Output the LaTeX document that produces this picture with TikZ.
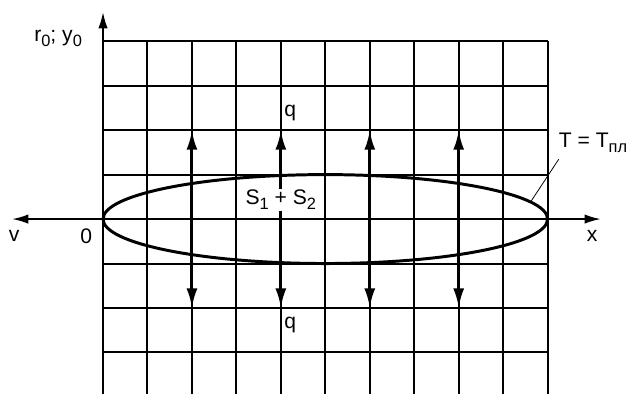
\documentclass[tikz,border=0pt]{standalone}
\usepackage{fontspec}
\setmainfont{Liberation Sans}
\usetikzlibrary{arrows.meta,shapes.geometric}
\newcommand{\lowidx}[1]{\raisebox{-0.45ex}{\fontsize{10.5}{10.5}\selectfont #1}}

\begin{document}
\begin{tikzpicture}[font=\fontsize{13.5}{15}\selectfont,
    gridline/.style={line width=1.3pt},
    axisline/.style={line width=1.3pt},
    flux/.style={line width=1.9pt,{Latex[length=12.5pt,width=7pt]}-{Latex[length=12.5pt,width=7pt]}},
    lbl/.style={inner sep=1pt}]
    \useasboundingbox (-2.317,-3.94) rectangle (11.83,4.927);
    % grid
    \foreach \x in {1,...,10} {
        \draw[gridline] (\x,4) -- (\x,-3.94);
    }
    \foreach \y in {-3,-2,-1,1,2,3,4} {
        \draw[gridline] (0,\y) -- (10,\y);
    }
    % axes
    \coordinate (ybot) at (0,-3.94);
    \coordinate (ytop) at (0,4.66);
    \coordinate (xleft) at (-2.05,0);
    \coordinate (xright) at (11.2,0);
    \draw[axisline,-{Latex[length=10.5pt,width=6pt]}] (ybot) -- (ytop);
    \draw[axisline,{Latex[length=10.5pt,width=6pt]}-{Latex[length=10.5pt,width=6pt]}] (xleft) -- (xright);
    % melting zone
    \node[draw, ellipse, line width=1.9pt, minimum width=10cm, minimum height=2cm, inner sep=0pt] (melt) at (5,0) {};
    \foreach \x in {2,4,6,8} {
        \coordinate (dn\x) at (\x,-2);
        \coordinate (up\x) at (\x,2);
        \draw[flux] (dn\x) -- (up\x);
    }
    \node[lbl, fill=white] (sum) at (4,0.43) {S\lowidx{1} + S\lowidx{2}};
    \node[lbl] (qup) at (4.21,2.38) {q};
    \node[lbl] (qdn) at (4.21,-2.38) {q};
    % labels
    \node[lbl] (orig) at (-0.38,-0.38) {0};
    \node[lbl] (vlab) at (-2.0,-0.38) {v};
    \node[lbl] (xlab) at (11.0,-0.38) {x};
    \node[lbl] (ylab) at (-1.01,4.07) {r\lowidx{0}; y\lowidx{0}};
    \node[lbl] (Tlab) at (11.02,1.71) {T = T\lowidx{пл}};
    \draw[line width=0.5pt] ([shift={(0.04,-0.1)}]Tlab.south west) -- (melt.5);
\end{tikzpicture}
\end{document}
